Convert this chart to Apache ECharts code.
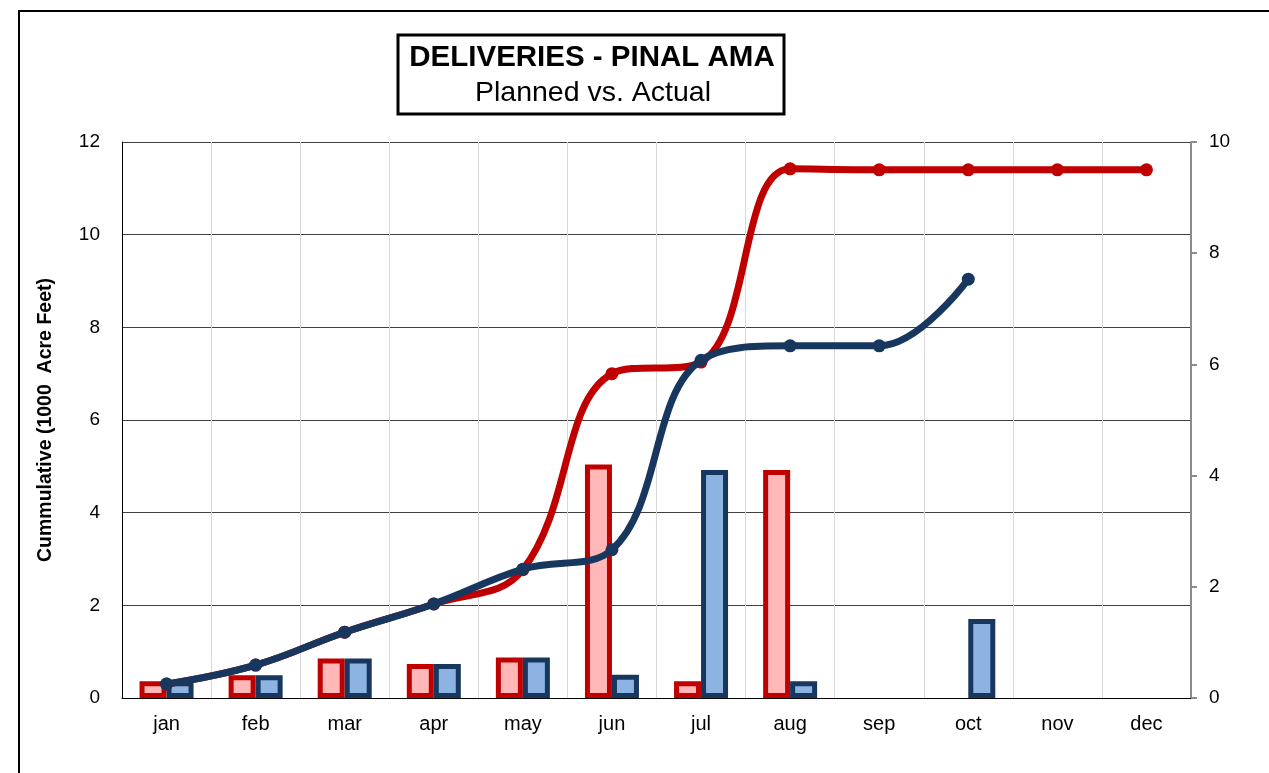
<!DOCTYPE html>
<html>
<head>
<meta charset="utf-8">
<script src="https://cdn.jsdelivr.net/npm/echarts@6/dist/echarts.min.js"></script>
<style>
  html, body { margin: 0; padding: 0; background: #fff; }
  #chart { width: 1269px; height: 773px; }
</style>
</head>
<body>
<div id="chart"></div>
<script>
// 月份
const months = ['jan', 'feb', 'mar', 'apr', 'may', 'jun', 'jul', 'aug', 'sep', 'oct', 'nov', 'dec']
// 累计（左轴）
const plannedCum = [0.30, 0.71, 1.42, 2.03, 2.77, 7.00, 7.25, 11.42, 11.40, 11.40, 11.40, 11.40]
const actualCum = [0.30, 0.71, 1.42, 2.03, 2.78, 3.20, 7.29, 7.60, 7.60, 9.04, null, null]
// 月度（右轴）
const plannedMonthly = [0.30, 0.41, 0.71, 0.61, 0.73, 4.20, 0.30, 4.10, null, null, null, null]
const actualMonthly = [0.30, 0.41, 0.71, 0.61, 0.73, 0.42, 4.10, 0.30, null, 1.42, null, null]

const leftTicks = {min: 0, max: 12, interval: 2}
const rightTicks = {min: 0, max: 10, interval: 2}

const RED = '#C00000'
const NAVY = '#17375E'
const font = '"Liberation Sans", Arial, sans-serif'

const chart = echarts.init(document.getElementById('chart'))

const option = {
  animation: false,
  backgroundColor: '#fff',
  textStyle: {fontFamily: font},
  grid: {left: 122, right: 78, top: 142, bottom: 75, containLabel: false},
  graphic: [
    {
      type: 'rect',
      shape: {x: 19, y: 11, width: 1300, height: 800},
      style: {fill: 'none', stroke: '#000', lineWidth: 2},
      silent: true
    },
    {
      type: 'rect',
      shape: {x: 398, y: 35, width: 386, height: 79},
      style: {fill: '#fff', stroke: '#000', lineWidth: 3},
      z: 10
    },
    {
      type: 'text',
      x: 592, y: 58,
      style: {
        text: 'DELIVERIES - PINAL AMA', fontSize: 29.5, fontWeight: 'bold',
        fontFamily: font, fill: '#000', align: 'center', verticalAlign: 'middle'
      },
      z: 11
    },
    {
      type: 'text',
      x: 593, y: 93,
      style: {
        text: 'Planned vs. Actual', fontSize: 28.5,
        fontFamily: font, fill: '#000', align: 'center', verticalAlign: 'middle'
      },
      z: 11
    }
  ],
  xAxis: {
    type: 'category',
    data: months,
    boundaryGap: true,
    axisLine: {lineStyle: {color: '#000', width: 1}},
    axisTick: {show: false},
    axisLabel: {fontSize: 20, color: '#000', margin: 16, fontFamily: font},
    splitLine: {show: true, lineStyle: {color: '#d9d9d9', width: 1}}
  },
  yAxis: [
    {
      type: 'value',
      ...leftTicks,
      name: 'Cummulative (1000  Acre Feet)',
      nameLocation: 'middle',
      nameGap: 66,
      nameTextStyle: {fontSize: 19.5, fontWeight: 'bold', color: '#000', fontFamily: font},
      axisLine: {show: true, lineStyle: {color: '#000', width: 1}},
      axisTick: {show: false},
      axisLabel: {fontSize: 19, color: '#000', margin: 22, fontFamily: font},
      splitLine: {show: true, lineStyle: {color: '#404040', width: 1}}
    },
    {
      type: 'value',
      ...rightTicks,
      position: 'right',
      axisLine: {show: true, lineStyle: {color: '#8c8c8c', width: 2}},
      axisTick: {show: true, inside: false, length: 6, lineStyle: {color: '#8c8c8c', width: 2}},
      axisLabel: {fontSize: 19, color: '#000', margin: 18, fontFamily: font},
      splitLine: {show: false}
    }
  ],
  series: [
    {
      name: 'Planned monthly',
      type: 'bar',
      yAxisIndex: 1,
      data: plannedMonthly,
      barWidth: 27,
      barGap: '0%',
      itemStyle: {color: '#FFB7B7', borderColor: RED, borderWidth: 5},
      z: 2
    },
    {
      name: 'Actual monthly',
      type: 'bar',
      yAxisIndex: 1,
      data: actualMonthly,
      barWidth: 27,
      barGap: '0%',
      itemStyle: {color: '#8DB3E2', borderColor: NAVY, borderWidth: 5},
      z: 3
    },
    {
      name: 'Planned',
      type: 'line',
      yAxisIndex: 0,
      data: plannedCum,
      smooth: 0.4,
      symbol: 'circle',
      symbolSize: 13,
      showAllSymbol: true,
      lineStyle: {color: RED, width: 7},
      itemStyle: {color: RED},
      z: 4
    },
    {
      name: 'Actual',
      type: 'line',
      yAxisIndex: 0,
      data: actualCum,
      smooth: 0.4,
      symbol: 'circle',
      symbolSize: 13,
      showAllSymbol: true,
      lineStyle: {color: NAVY, width: 7},
      itemStyle: {color: NAVY},
      z: 5
    }
  ]
}

chart.setOption(option)
window.addEventListener('resize', () => chart.resize())
</script>
</body>
</html>
